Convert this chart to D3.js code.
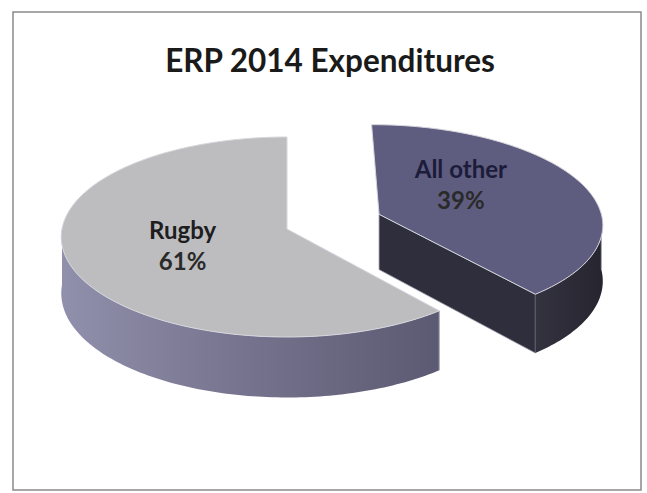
<!DOCTYPE html>
<html lang="en">
<head>
    <meta charset="UTF-8">
    <title>ERP 2014 Expenditures</title>
    <style>
        body {
            margin: 0;
            background: #ffffff;
        }
        text {
            font-family: Lato, "Open Sans", sans-serif;
            font-weight: bold;
        }
    </style>
</head>
<body>
    <script src="https://d3js.org/d3.v7.min.js"></script>
    <script type="text/javascript">
        // chart data
        var categories = ["All other", "Rugby"];
        var shares = [39, 61];
        var pctLabels = ["39%", "61%"];
        var explode = [0.44, 0];

        var width = 647;
        var height = 493;

        // pie look
        var cx = 287, cy = 229;     // centre of the unexploded pie
        var rx = 225, ry = 100;     // ellipse radii of the top face
        var depth = 56;             // wall height
        var persp = 0.08;           // front looks a bit bigger than back

        var topColors = ["#5e5d80", "#bdbdc0"];
        var cutColors = ["#2f2e3c", "#2f2e3c"];
        var labelColors = ["#1c1c3a", "#1e1e1e"];
        // small nudges so the labels sit where Excel put them
        var labelNudge = [[-10, -18], [-8, -1]];

        var svg = d3.select("body")
                    .append("svg")
                    .attr("width", width)
                    .attr("height", height);

        // wall gradients
        var defs = svg.append("defs");
        var g1 = defs.append("linearGradient").attr("id", "wallRugby")
            .attr("x1", "0").attr("x2", "1").attr("y1", "0").attr("y2", "0");
        g1.append("stop").attr("offset", "0%").attr("stop-color", "#9190ac");
        g1.append("stop").attr("offset", "45%").attr("stop-color", "#77758f");
        g1.append("stop").attr("offset", "100%").attr("stop-color", "#5c5a72");
        var g2 = defs.append("linearGradient").attr("id", "wallOther")
            .attr("x1", "0").attr("x2", "1").attr("y1", "0").attr("y2", "0");
        g2.append("stop").attr("offset", "0%").attr("stop-color", "#33323f");
        g2.append("stop").attr("offset", "100%").attr("stop-color", "#26252f");
        var wallFills = ["url(#wallOther)", "url(#wallRugby)"];

        // frame
        svg.append("rect")
            .attr("x", 13).attr("y", 12)
            .attr("width", 628).attr("height", 478)
            .attr("fill", "none")
            .attr("stroke", "#8a8a8a")
            .attr("stroke-width", 1.5);

        // title
        svg.append("text")
            .attr("x", 330).attr("y", 72)
            .attr("text-anchor", "middle")
            .attr("font-size", 31.5)
            .attr("fill", "#1a1a1a")
            .text("ERP 2014 Expenditures");

        // unit circle -> screen
        var xScale = d3.scaleLinear().domain([-1, 1]).range([cx - rx, cx + rx]);
        var yScale = d3.scaleLinear().domain([-1, 1]).range([cy - ry, cy + ry]);

        function project(u, v, bottom) {
            var s = 1 + persp * v;
            var x = xScale(u * s);
            var y = yScale(v * s) + (bottom ? depth * s : 0);
            return [x, y];
        }

        function rimPoint(off, a, r, bottom) {
            return project(off[0] + r * Math.sin(a), off[1] - r * Math.cos(a), bottom);
        }

        function rimPoints(off, a0, a1, bottom) {
            var pts = [];
            var n = Math.max(2, Math.ceil(Math.abs(a1 - a0) / 0.02));
            for (var i = 0; i <= n; i++) {
                pts.push(rimPoint(off, a0 + (a1 - a0) * i / n, 1, bottom));
            }
            return pts;
        }

        var line = d3.line();

        var pie = d3.pie().sort(null);
        var arcs = pie(shares);

        // draw the exploded (back) slice first, then the front one
        var order = [0, 1];
        order.forEach(function(i) {
            var d = arcs[i];
            var mid = (d.startAngle + d.endAngle) / 2;
            var off = [explode[i] * Math.sin(mid), -explode[i] * Math.cos(mid)];
            var g = svg.append("g").attr("class", "slice");

            // cut face at end angle (only the right slice shows it)
            var endA = d.endAngle;
            if (i === 0) {
                var c = [project(off[0], off[1], false), rimPoint(off, endA, 1, false),
                         rimPoint(off, endA, 1, true), project(off[0], off[1], true)];
                g.append("path")
                    .attr("d", line(c) + "Z")
                    .attr("fill", cutColors[i])
                    .attr("stroke", "#9c9cab").attr("stroke-width", 0.8);
            }

            // outer wall, visible part between 90 and 270 degrees
            var a0 = Math.max(d.startAngle, Math.PI / 2);
            var a1 = Math.min(d.endAngle, 3 * Math.PI / 2);
            if (a1 > a0) {
                var top = rimPoints(off, a0, a1, false);
                var bot = rimPoints(off, a0, a1, true).reverse();
                g.append("path")
                    .attr("d", line(top.concat(bot)) + "Z")
                    .attr("fill", wallFills[i])
                    .attr("stroke", "none");
                g.append("path")
                    .attr("d", line([rimPoint(off, a0, 1, false), rimPoint(off, a0, 1, true)]))
                    .attr("stroke", "#a8a8b6").attr("stroke-width", 1);
            }

            // top face
            var face = [project(off[0], off[1], false)].concat(rimPoints(off, d.startAngle, d.endAngle, false));
            g.append("path")
                .attr("d", line(face) + "Z")
                .attr("fill", topColors[i])
                .attr("stroke", "#d6d6de")
                .attr("stroke-width", 1);

            // label
            var lp = rimPoint(off, mid, 0.45, false);
            var lx = lp[0] + labelNudge[i][0];
            var ly = lp[1] + labelNudge[i][1];
            g.append("text")
                .attr("x", lx).attr("y", ly - 4)
                .attr("text-anchor", "middle")
                .attr("font-size", 24)
                .attr("fill", labelColors[i])
                .text(categories[i]);
            g.append("text")
                .attr("x", lx).attr("y", ly + 27)
                .attr("text-anchor", "middle")
                .attr("font-size", 24)
                .attr("fill", "#2a2a2a")
                .text(pctLabels[i]);
        });
    </script>
</body>
</html>
